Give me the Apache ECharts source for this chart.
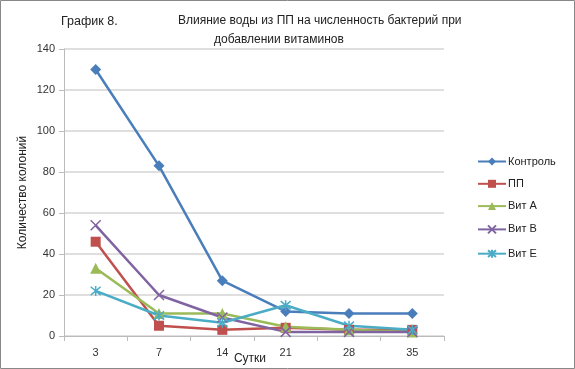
<!DOCTYPE html>
<html><head><meta charset="utf-8">
<script src="https://cdn.jsdelivr.net/npm/echarts@6/dist/echarts.min.js"></script>
<style>html,body{margin:0;padding:0;background:#fff}#c{width:575px;height:369px}</style>
</head><body><div id="c"></div>
<script>
const categories = ['3', '7', '14', '21', '28', '35'];
const kontrol = [130, 83, 27, 12, 11, 11];
const pp = [46, 5, 3, 4, 3, 3];
const vitA = [33, 11, 11, 4.5, 3, 2];
const vitB = [54, 20, 9, 2, 2, 2];
const vitE = [22, 10, 6.5, 15, 5, 3];
const seriesNames = ['Контроль', 'ПП', 'Вит A', 'Вит B', 'Вит E'];
const yTicks = [0, 20, 40, 60, 80, 100, 120, 140];

const font = 'Liberation Sans';
const xPath = 'path://M0,0L10,10M10,0L0,10';
const starPath = 'path://M0,0L10,10M10,0L0,10M5,-1L5,11';

function mk(name, data, color, symbol, size, extra) {
  return Object.assign({
    name, type: 'line', data, symbol, symbolSize: size,
    lineStyle: { color, width: 2.5 },
    itemStyle: { color },
    emphasis: { disabled: true },
    animation: false
  }, extra || {});
}

const chart = echarts.init(document.getElementById('c'));
chart.setOption({
  animation: false,
  textStyle: { fontFamily: font },
  title: [
    { text: 'График 8.', left: 56, top: 10, textStyle: { fontSize: 12.5, fontWeight: 'normal', color: '#222', fontFamily: font } },
    { text: 'Влияние воды из ПП на численность бактерий при', left: 173, top: 10, textStyle: { fontSize: 12, fontWeight: 'normal', color: '#222', fontFamily: font } },
    { text: 'добавлении витаминов', left: 209, top: 29, textStyle: { fontSize: 12, fontWeight: 'normal', color: '#222', fontFamily: font } }
  ],
  graphic: [{ type: 'rect', shape: { x: 0.5, y: 0.5, width: 574, height: 368 }, style: { fill: 'none', stroke: '#888', lineWidth: 1 } }],
  grid: { left: 64, right: 131, top: 49, bottom: 33, outerBoundsMode: 'none', containLabel: false },
  legend: {
    orient: 'vertical', left: 472, top: 151, itemGap: 11.3, itemWidth: 28, itemHeight: 10,
    data: seriesNames,
    textStyle: { fontSize: 11, color: '#222', fontFamily: font, padding: [0, 0, 0, -3] }
  },
  xAxis: {
    type: 'category', data: categories, boundaryGap: true,
    name: 'Сутки', nameLocation: 'middle', nameGap: 17, nameMoveOverlap: false,
    nameTextStyle: { fontSize: 12, color: '#222', padding: [0, 8, 0, 0] },
    axisLine: { lineStyle: { color: '#bbb', width: 1 } },
    axisTick: { show: true, length: 5, lineStyle: { color: '#bbb' } },
    axisLabel: { fontSize: 11, color: '#333', margin: 11 }
  },
  yAxis: {
    type: 'value', min: 0, max: 140, interval: 20,
    name: 'Количество колоний', nameLocation: 'middle', nameGap: 35, nameMoveOverlap: false,
    nameTextStyle: { fontSize: 12, color: '#222' },
    axisLine: { show: true, lineStyle: { color: '#bbb', width: 1 } },
    axisTick: { show: true, length: 5, lineStyle: { color: '#bbb' } },
    axisLabel: { fontSize: 11, color: '#333', margin: 9, formatter: v => yTicks.includes(v) ? String(v) : '' },
    splitLine: { lineStyle: { color: '#d4d4d4', width: 1.5 } }
  },
  series: [
    mk(seriesNames[0], kontrol, '#4a7ebb', 'diamond', 11),
    mk(seriesNames[1], pp, '#c0504d', 'rect', 10),
    mk(seriesNames[2], vitA, '#9bbb59', 'triangle', 11),
    mk(seriesNames[3], vitB, '#8064a2', xPath, 10, { itemStyle: { color: 'none', borderColor: '#8064a2', borderWidth: 1.5 } }),
    mk(seriesNames[4], vitE, '#4bacc6', starPath, 10, { itemStyle: { color: 'none', borderColor: '#4bacc6', borderWidth: 1.5 } })
  ]
});
</script></body></html>
